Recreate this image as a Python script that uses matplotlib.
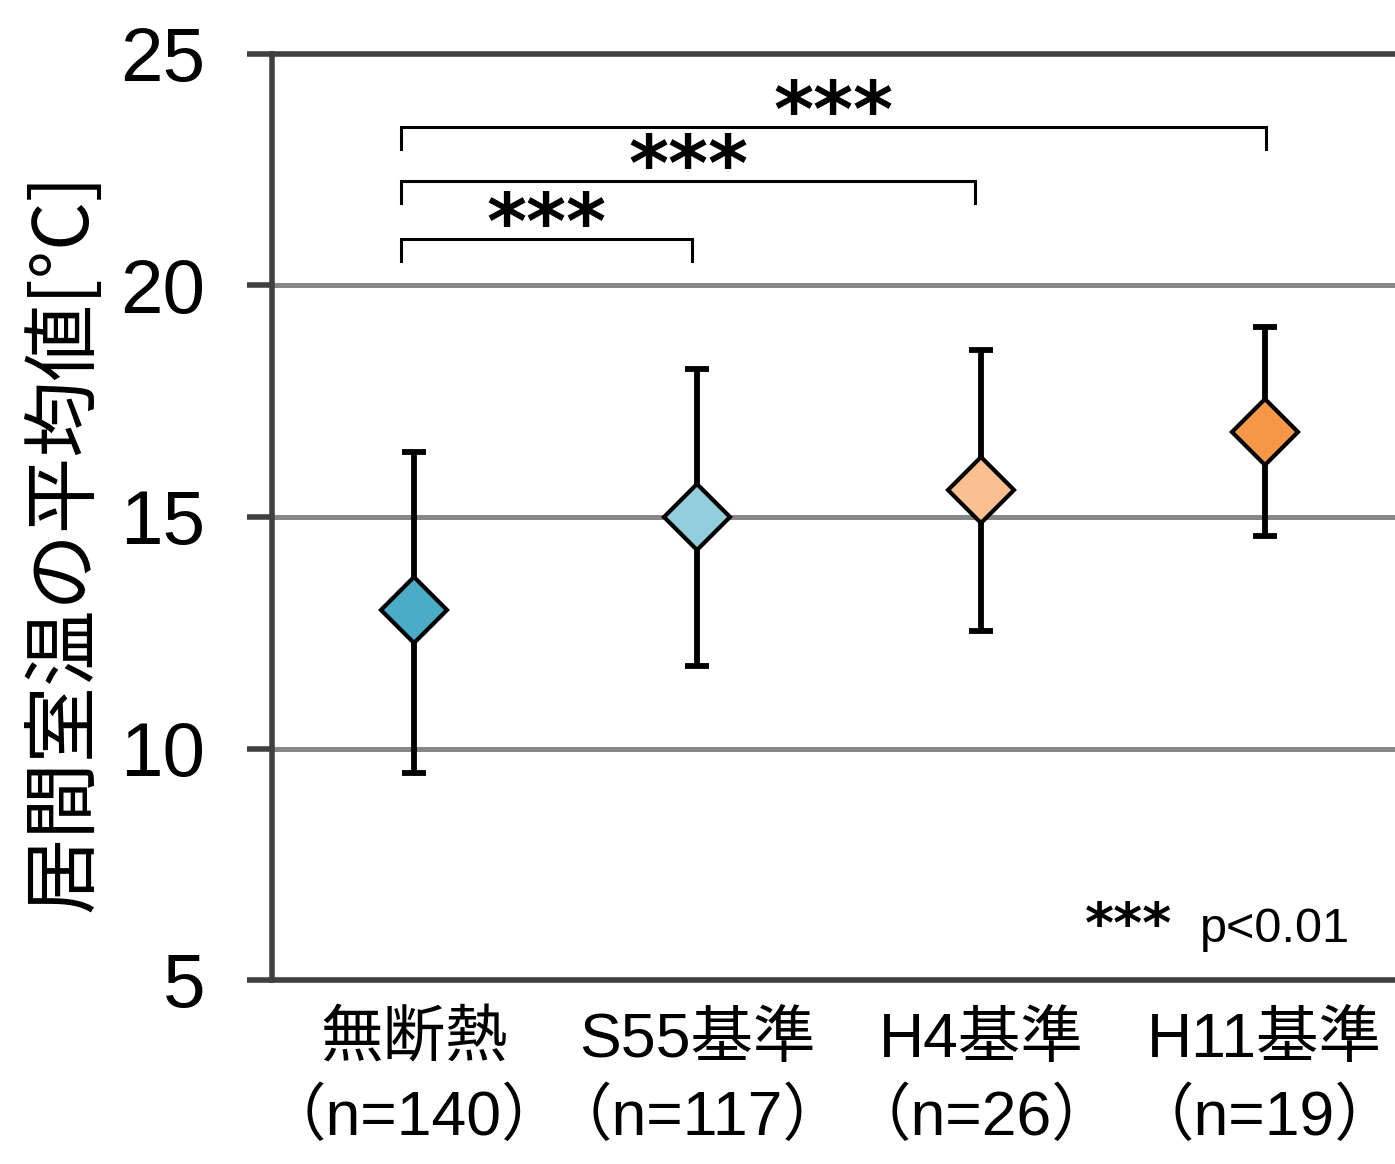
import matplotlib
matplotlib.use("Agg")
import matplotlib.pyplot as plt

# ---- data ----
categories = ["無断熱\n（n=140）", "S55基準\n（n=117）", "H4基準\n（n=26）", "H11基準\n（n=19）"]
means = [13.0, 15.0, 15.58, 16.84]
upper = [16.4, 18.2, 18.6, 19.1]
lower = [9.48, 11.78, 12.54, 14.6]
colors = ["#4BACC6", "#92CDDC", "#FAC090", "#F79646"]
comparisons = [(0, 1), (0, 2), (0, 3)]
comparison_labels = ["***", "***", "***"]
yticks = [5, 10, 15, 20, 25]
ylabel = "居間室温の平均値[°C]"
note_stars = "***"
note_p = "p<0.01"

W, H = 1395, 1164
fig = plt.figure(figsize=(W / 100, H / 100), dpi=100)
ax = fig.add_axes([272 / W, 1 - 980 / H, 1 - 272 / W, (980 - 54) / H])
ax.set_xlim(-0.5, 3.46)
ax.set_ylim(5, 25)

dark = "#404040"
for y in yticks[1:-1]:
    ax.axhline(y, color="#878787", lw=3.6, zorder=0)

for s in ["left", "bottom", "top"]:
    ax.spines[s].set_color(dark)
    ax.spines[s].set_linewidth(4.0)
ax.spines["right"].set_visible(False)

ax.set_yticks(yticks)
ax.set_yticklabels([str(v) for v in yticks], family="Liberation Sans", fontsize=55)
ax.tick_params(axis="y", length=18, width=4.0, color=dark, pad=30)
ax.set_xticks(range(len(categories)))
ax.set_xticklabels(categories, family=["Liberation Sans", "Noto Sans CJK JP"], fontsize=45,
                   linespacing=1.4)
ax.tick_params(axis="x", length=0, pad=22)

for i, (m, u, l, c) in enumerate(zip(means, upper, lower, colors)):
    ax.errorbar(i, m, yerr=[[m - l], [u - m]], fmt="none", ecolor="black",
                elinewidth=4.2, capsize=8.3, capthick=4.2, zorder=3)
    ax.plot(i, m, marker="D", markersize=34, markerfacecolor=c,
            markeredgecolor="black", markeredgewidth=3.0, zorder=4, linestyle="none")

# significance brackets
bracket_tops = [21.0, 22.26, 23.42]
drop = 0.47
for (a, b), lab, yt in zip(comparisons, comparison_labels, bracket_tops):
    x0 = a - 0.046
    x1 = b - 0.02 if b < 3 else b + 0.005
    ax.plot([x0, x0, x1, x1], [yt - drop, yt, yt, yt - drop], color="black", lw=2.2,
            solid_joinstyle="miter", zorder=3)
    ax.text((x0 + x1) / 2, yt - 0.2, lab, ha="center", va="baseline",
            family="DejaVu Sans", fontweight="bold", fontsize=55)

fig.text(1172 / W, 1 - 942 / H, note_stars, ha="right", va="baseline",
         family="DejaVu Sans", fontweight="bold", fontsize=40)
fig.text(1350 / W, 1 - 942 / H, note_p, ha="right", va="baseline",
         family="Liberation Sans", fontsize=35)

fig.text(65 / W, 1 - 542 / H, ylabel, rotation=90, ha="center", va="center",
         family=["Noto Sans CJK JP", "DejaVu Sans"], fontsize=55)

fig.savefig("out.png", dpi=100)
